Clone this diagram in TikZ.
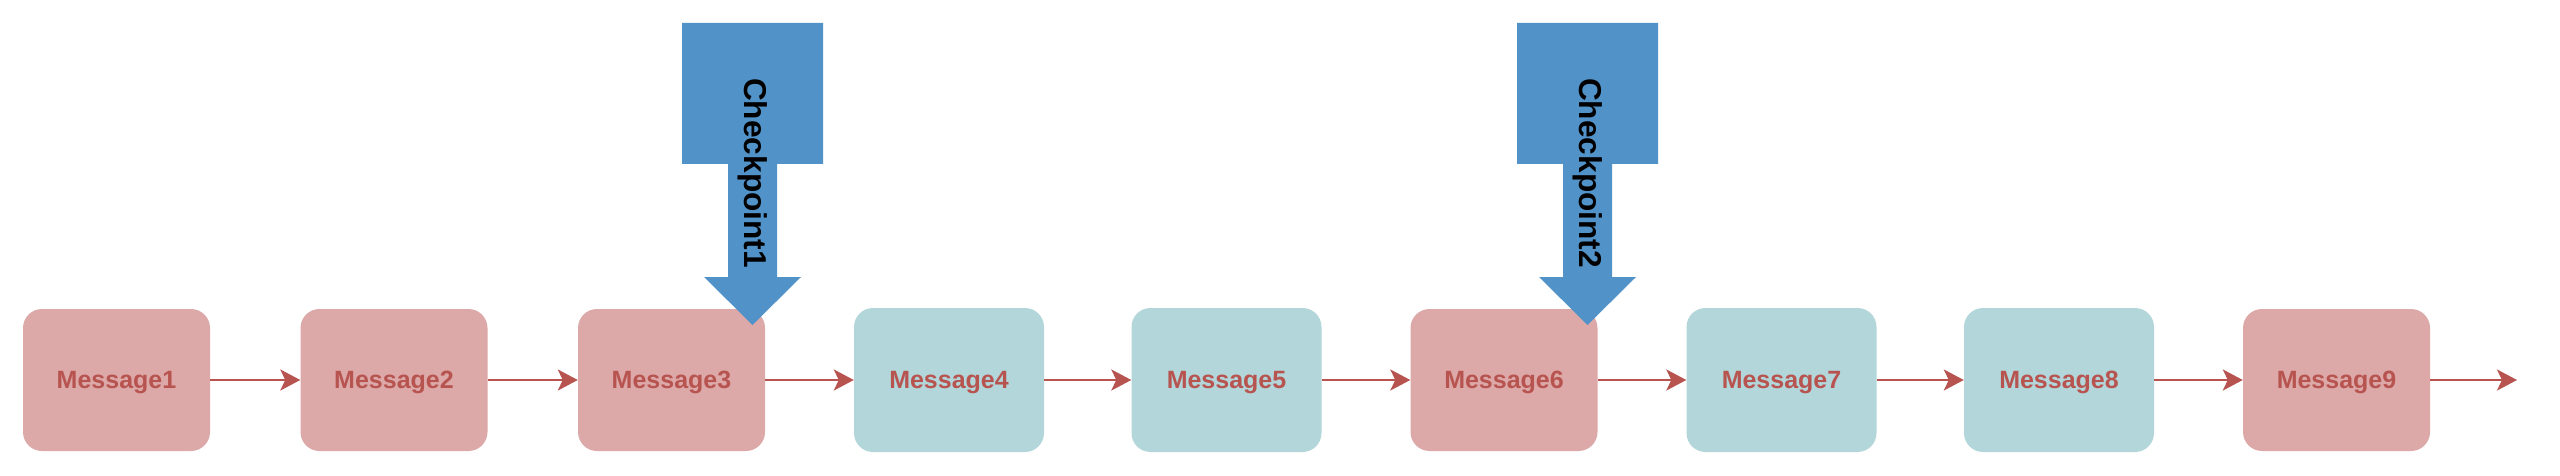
\documentclass[tikz,border=0pt]{standalone}
\usepackage{fontspec}
\setmainfont{Liberation Sans}
\usetikzlibrary{arrows.meta}
\definecolor{pinkfill}{HTML}{DCA8A8}
\definecolor{tealfill}{HTML}{B2D6DA}
\definecolor{msgred}{HTML}{B85450}
\definecolor{cpblue}{HTML}{5193C9}
\tikzset{
  msgbox/.style={rectangle, rounded corners=19pt, minimum width=187pt, minimum height=142pt, inner sep=0pt,
     text depth=0pt, text=msgred, font=\fontsize{25}{26}\selectfont\bfseries},
  redbox/.style={msgbox, fill=pinkfill},
  tealbox/.style={msgbox, fill=tealfill, minimum width=190pt, minimum height=144pt},
  link/.style={draw=msgred, line width=2.6pt, -{Stealth[length=20pt, width=21pt, inset=5pt]}},
  cparrow/.style={fill=cpblue},
  cplabel/.style={rotate=-90, inner sep=0pt, font=\fontsize{31.6}{32}\selectfont\bfseries, text=black}
}
\begin{document}
\begin{tikzpicture}[x=1pt,y=-1pt]
\useasboundingbox (0,0) rectangle (2560,476);
\fill[white] (0,0) rectangle (2560,476);
% messages
\node[redbox]  (m1) at (116.5,380) {Message1};
\node[redbox]  (m2) at (394,380) {Message2};
\node[redbox]  (m3) at (671.5,380) {Message3};
\node[tealbox] (m4) at (949,380) {Message4};
\node[tealbox] (m5) at (1226.5,380) {Message5};
\node[redbox]  (m6) at (1504,380) {Message6};
\node[tealbox] (m7) at (1781.5,380) {Message7};
\node[tealbox] (m8) at (2059,380) {Message8};
\node[redbox]  (m9) at (2336.5,380) {Message9};
\coordinate (end) at (2517,380);
% connectors
\draw[link] (m1) -- (m2);
\draw[link] (m2) -- (m3);
\draw[link] (m3) -- (m4);
\draw[link] (m4) -- (m5);
\draw[link] (m5) -- (m6);
\draw[link] (m6) -- (m7);
\draw[link] (m7) -- (m8);
\draw[link] (m8) -- (m9);
\draw[link] (m9.east) -- (end);
% checkpoint arrows
\foreach \dx/\lab/\nm in {0/Checkpoint1/cp1, 835/Checkpoint2/cp2}{
  \begin{scope}[xshift=\dx pt]
    \fill[cparrow] (682,23) -- (823,23) -- (823,164) -- (777,164) -- (777,277) -- (801,277)
       -- (752.5,325) -- (704,277) -- (728,277) -- (728,164) -- (682,164) -- cycle;
    \node[cplabel] (\nm) at (752.5,173) {\lab};
  \end{scope}
}
\end{tikzpicture}
\end{document}
